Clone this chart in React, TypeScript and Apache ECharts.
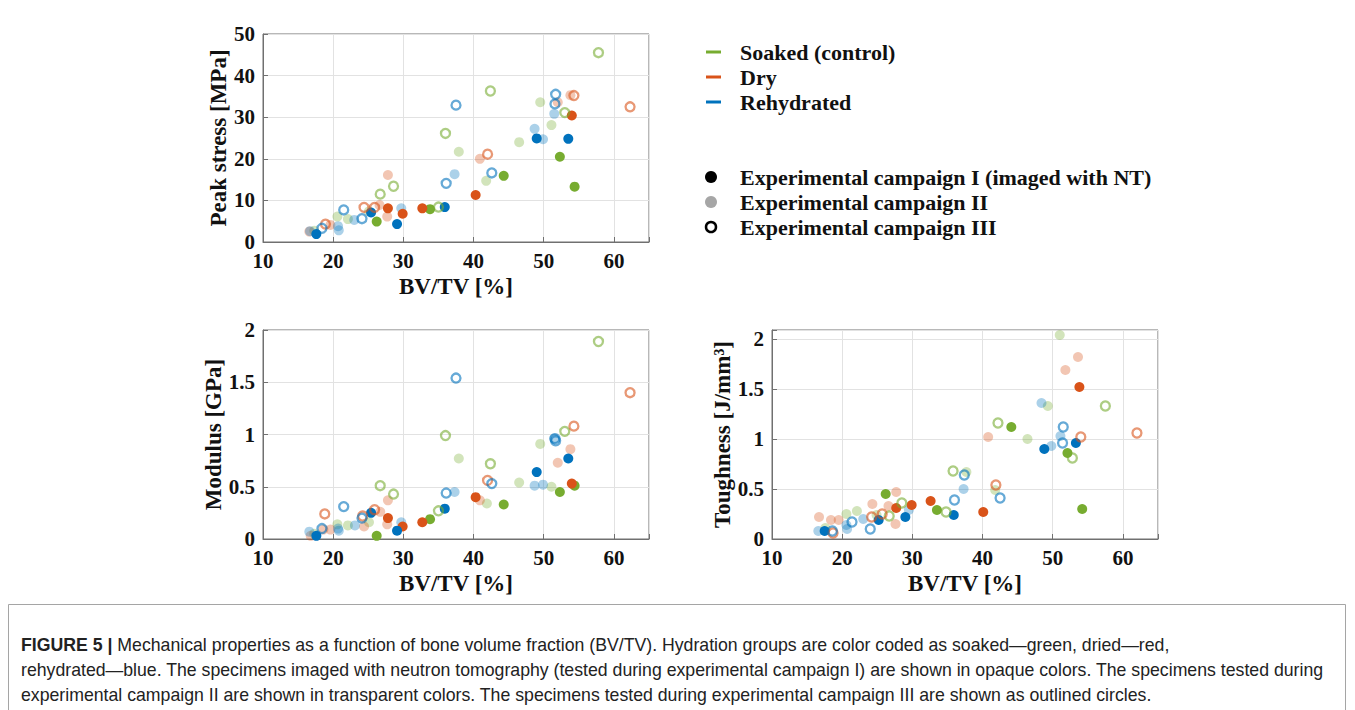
import React, { useEffect, useRef } from 'react';
import * as echarts from 'echarts';

const GREEN = '#77AC30';
const RED = '#D95319';
const BLUE = '#0072BD';

// ---- Panel 1: Peak stress [MPa] vs BV/TV [%]
const stressSoakedI = [[26.2, 4.9], [33.8, 7.9], [44.3, 15.9], [52.3, 20.5], [54.4, 13.3]];
const stressSoakedII = [[17.3, 2.7], [20.6, 6.1], [22.1, 5.5], [25.1, 7.4], [37.9, 21.7], [41.8, 14.7], [46.5, 24.0], [49.5, 33.6], [51.1, 28.1]];
const stressSoakedIII = [[26.7, 11.5], [28.6, 13.4], [35.0, 8.4], [36.0, 26.1], [42.4, 36.3], [53.0, 31.1], [57.8, 45.5]];
const stressDryI = [[27.8, 8.1], [29.9, 6.8], [32.7, 8.1], [40.3, 11.3], [54.0, 30.4]];
const stressDryII = [[16.6, 2.5], [19.6, 4.1], [26.6, 8.9], [27.7, 6.1], [27.8, 16.1], [40.9, 20.0], [52.0, 33.6], [53.8, 35.3]];
const stressDryIII = [[18.9, 4.3], [24.4, 8.3], [25.9, 8.3], [42.0, 21.1], [54.3, 35.2], [62.3, 32.5]];
const stressRehydI = [[17.6, 1.9], [25.4, 7.1], [29.1, 4.3], [35.9, 8.4], [49.0, 24.9], [53.5, 24.8]];
const stressRehydII = [[16.7, 2.6], [20.7, 3.8], [20.8, 2.8], [23.0, 5.3], [29.7, 8.1], [37.3, 16.3], [48.7, 27.2], [49.9, 24.7], [51.5, 30.8]];
const stressRehydIII = [[18.4, 3.3], [21.5, 7.7], [24.1, 5.6], [36.1, 14.1], [37.5, 32.9], [42.6, 16.6], [51.6, 33.2], [51.7, 35.5]];

// ---- Panel 2: Modulus [GPa]
const modSoakedI = [[26.2, 0.03], [33.8, 0.19], [44.3, 0.33], [52.3, 0.45], [54.4, 0.51]];
const modSoakedII = [[17.3, 0.05], [20.6, 0.14], [22.1, 0.13], [25.1, 0.16], [37.9, 0.77], [41.9, 0.34], [46.5, 0.54], [49.5, 0.91], [51.1, 0.5]];
const modSoakedIII = [[26.7, 0.51], [28.6, 0.43], [35.0, 0.27], [36.0, 0.99], [42.4, 0.72], [53.0, 1.03], [57.8, 1.89]];
const modDryI = [[27.8, 0.2], [29.9, 0.12], [32.7, 0.16], [40.3, 0.4], [54.0, 0.53]];
const modDryII = [[16.8, 0.03], [18.6, 0.09], [19.6, 0.09], [24.4, 0.12], [26.7, 0.26], [27.7, 0.14], [27.8, 0.37], [40.9, 0.37], [52.0, 0.73], [53.8, 0.86]];
const modDryIII = [[18.8, 0.24], [24.2, 0.22], [25.9, 0.28], [42.0, 0.56], [54.3, 1.08], [62.3, 1.4]];
const modRehydI = [[17.6, 0.03], [25.4, 0.25], [29.1, 0.08], [35.9, 0.29], [49.0, 0.64], [53.5, 0.77]];
const modRehydII = [[16.6, 0.07], [20.7, 0.1], [20.8, 0.08], [23.1, 0.13], [29.7, 0.16], [37.3, 0.45], [48.7, 0.51], [49.9, 0.52], [51.5, 0.96]];
const modRehydIII = [[18.4, 0.1], [21.5, 0.31], [24.1, 0.2], [36.1, 0.44], [37.5, 1.54], [42.6, 0.53], [51.6, 0.96], [51.7, 0.94]];

// ---- Panel 3: Toughness [J/mm3]
const toughSoakedI = [[26.2, 0.45], [33.5, 0.29], [44.1, 1.12], [52.1, 0.86], [54.2, 0.3]];
const toughSoakedII = [[17.6, 0.11], [20.6, 0.25], [22.1, 0.28], [24.9, 0.24], [37.7, 0.67], [41.8, 0.49], [46.4, 1.0], [49.3, 1.33], [51.0, 2.04]];
const toughSoakedIII = [[26.7, 0.23], [28.5, 0.36], [34.8, 0.27], [35.8, 0.68], [42.2, 1.16], [52.8, 0.81], [57.5, 1.33]];
const toughDryI = [[27.7, 0.31], [29.9, 0.34], [32.6, 0.38], [40.1, 0.27], [53.8, 1.52]];
const toughDryII = [[16.7, 0.22], [18.4, 0.19], [19.5, 0.19], [24.3, 0.35], [26.6, 0.33], [27.6, 0.15], [27.7, 0.47], [40.8, 1.02], [51.8, 1.69], [53.6, 1.82]];
const toughDryIII = [[18.7, 0.06], [24.2, 0.22], [25.7, 0.25], [41.9, 0.54], [54.0, 1.02], [62.0, 1.06]];
const toughRehydI = [[17.5, 0.08], [25.2, 0.19], [29.0, 0.22], [35.9, 0.24], [48.8, 0.9], [53.3, 0.96]];
const toughRehydII = [[16.6, 0.08], [20.6, 0.14], [20.7, 0.1], [23.0, 0.2], [29.5, 0.29], [37.3, 0.5], [48.4, 1.36], [49.8, 0.93], [51.1, 1.03]];
const toughRehydIII = [[18.6, 0.08], [21.4, 0.17], [24.0, 0.1], [36.0, 0.39], [37.4, 0.64], [42.5, 0.41], [51.4, 0.96], [51.5, 1.12]];

const xTicks = [10, 20, 30, 40, 50, 60];
const groupNames = ['Soaked (control)', 'Dry', 'Rehydrated'];
const campaignNames = ['Experimental campaign I (imaged with NT)', 'Experimental campaign II', 'Experimental campaign III'];
const captionLines = [
  'Mechanical properties as a function of bone volume fraction (BV/TV). Hydration groups are color coded as soaked\u2014green, dried\u2014red,',
  'rehydrated\u2014blue. The specimens imaged with neutron tomography (tested during experimental campaign I) are shown in opaque colors. The specimens tested during',
  'experimental campaign II are shown in transparent colors. The specimens tested during experimental campaign III are shown as outlined circles.',
];

const SERIF = 'Liberation Serif, Times New Roman, serif';
const SANS = 'Liberation Sans, Arial, sans-serif';
const AX = '#707070';

function scatter(name: string, idx: number, data: number[][], color: string, campaign: number) {
  const base: any = {
    type: 'scatter',
    name,
    xAxisIndex: idx,
    yAxisIndex: idx,
    data,
    symbol: 'circle',
    silent: true,
  };
  if (campaign === 1) {
    base.symbolSize = 10;
    base.itemStyle = { color, opacity: 1 };
    base.z = 3;
  } else if (campaign === 2) {
    base.symbolSize = 10;
    base.itemStyle = { color, opacity: 0.33 };
    base.z = 2;
  } else {
    base.symbolSize = 9;
    base.itemStyle = { color: 'rgba(255,255,255,0)', borderColor: color, borderWidth: 2.3, opacity: 0.6 };
    base.z = 4;
  }
  return base;
}

function xAxis(idx: number) {
  return {
    type: 'value',
    gridIndex: idx,
    min: 10,
    max: 65,
    interval: 10,
    name: 'BV/TV [%]',
    nameLocation: 'middle',
    nameGap: 33,
    nameTextStyle: { fontFamily: SERIF, fontWeight: 'bold', fontSize: 23, color: '#111' },
    axisLine: { show: true, onZero: false, lineStyle: { color: AX } },
    axisTick: { show: true, inside: true, length: 5, lineStyle: { color: AX } },
    axisLabel: {
      fontFamily: SERIF, fontWeight: 'bold', fontSize: 21, color: '#111', margin: 8,
      formatter: (v: number) => (xTicks.includes(v) ? String(v) : ''),
    },
    splitLine: { show: true, lineStyle: { color: '#e2e2e2' } },
  };
}

function yAxis(idx: number, name: string, max: number, interval: number, gap: number) {
  return {
    type: 'value',
    gridIndex: idx,
    min: 0,
    max,
    interval,
    name,
    nameLocation: 'middle',
    nameGap: gap,
    nameTextStyle: { fontFamily: SERIF, fontWeight: 'bold', fontSize: 23, color: '#111' },
    axisLine: { show: true, onZero: false, lineStyle: { color: AX } },
    axisTick: { show: true, inside: true, length: 5, lineStyle: { color: AX } },
    axisLabel: {
      fontFamily: SERIF, fontWeight: 'bold', fontSize: 21, color: '#111', margin: 8,
      formatter: (v: number) => (Math.abs(v / interval - Math.round(v / interval)) < 1e-6 ? String(+v.toFixed(2)) : ''),
    },
    splitLine: { show: true, lineStyle: { color: '#e2e2e2' } },
  };
}

export default function App() {
  const ref = useRef<HTMLDivElement>(null);
  useEffect(() => {
    const chart = echarts.init(ref.current!, null, { renderer: 'svg' });
    const gridStyle = { show: true, borderColor: AX, borderWidth: 1, backgroundColor: '#fff' };
    const legendColors = [GREEN, RED, BLUE];
    const graphic: any[] = [];
    groupNames.forEach((g, i) => {
      const y = 52 + i * 25;
      graphic.push({ type: 'rect', shape: { x: 706, y: y - 1.5, width: 15, height: 3 }, style: { fill: legendColors[i] } });
      graphic.push({ type: 'text', x: 740, y, style: { text: g, font: `bold 22px ${SERIF}`, fill: '#111', textVerticalAlign: 'middle' } });
    });
    campaignNames.forEach((c, i) => {
      const y = 177 + i * 25;
      if (i === 0) graphic.push({ type: 'circle', shape: { cx: 711, cy: y, r: 6 }, style: { fill: '#000' } });
      if (i === 1) graphic.push({ type: 'circle', shape: { cx: 711, cy: y, r: 6 }, style: { fill: '#a6a6a6' } });
      if (i === 2) graphic.push({ type: 'circle', shape: { cx: 711, cy: y, r: 5 }, style: { fill: 'none', stroke: '#000', lineWidth: 2.5 } });
      graphic.push({ type: 'text', x: 740, y, style: { text: c, font: `bold 22px ${SERIF}`, fill: '#111', textVerticalAlign: 'middle' } });
    });
    graphic.push({ type: 'rect', shape: { x: 8.5, y: 604.5, width: 1337, height: 130 }, style: { fill: 'none', stroke: '#a5a5a5', lineWidth: 1 } });
    captionLines.forEach((line, i) => {
      graphic.push({
        type: 'text', x: 21, y: 645 + i * 25,
        style: {
          text: (i === 0 ? '{b|FIGURE 5 |} ' : '') + line,
          font: `17.7px ${SANS}`,
          fill: '#222', textVerticalAlign: 'middle',
          rich: { b: { fontWeight: 'bold', fontSize: 17.7, fontFamily: SANS, fill: '#222' } },
        },
      });
    });

    const option: any = {
      animation: false,
      backgroundColor: '#fff',
      grid: [
        { left: 263, top: 34, width: 386, height: 208, ...gridStyle },
        { left: 263, top: 330, width: 386, height: 209, ...gridStyle },
        { left: 772, top: 330, width: 386, height: 209, ...gridStyle },
      ],
      xAxis: [xAxis(0), xAxis(1), xAxis(2)],
      yAxis: [
        yAxis(0, 'Peak stress [MPa]', 50, 10, 30),
        yAxis(1, 'Modulus [GPa]', 2, 0.5, 37),
        yAxis(2, 'Toughness [J/mm\u00b3]', 2.09, 0.5, 35),
      ],
      series: [
        scatter('Soaked II', 0, stressSoakedII, GREEN, 2),
        scatter('Dry II', 0, stressDryII, RED, 2),
        scatter('Rehydrated II', 0, stressRehydII, BLUE, 2),
        scatter('Soaked I', 0, stressSoakedI, GREEN, 1),
        scatter('Dry I', 0, stressDryI, RED, 1),
        scatter('Rehydrated I', 0, stressRehydI, BLUE, 1),
        scatter('Soaked III', 0, stressSoakedIII, GREEN, 3),
        scatter('Dry III', 0, stressDryIII, RED, 3),
        scatter('Rehydrated III', 0, stressRehydIII, BLUE, 3),

        scatter('Soaked II', 1, modSoakedII, GREEN, 2),
        scatter('Dry II', 1, modDryII, RED, 2),
        scatter('Rehydrated II', 1, modRehydII, BLUE, 2),
        scatter('Soaked I', 1, modSoakedI, GREEN, 1),
        scatter('Dry I', 1, modDryI, RED, 1),
        scatter('Rehydrated I', 1, modRehydI, BLUE, 1),
        scatter('Soaked III', 1, modSoakedIII, GREEN, 3),
        scatter('Dry III', 1, modDryIII, RED, 3),
        scatter('Rehydrated III', 1, modRehydIII, BLUE, 3),

        scatter('Soaked II', 2, toughSoakedII, GREEN, 2),
        scatter('Dry II', 2, toughDryII, RED, 2),
        scatter('Rehydrated II', 2, toughRehydII, BLUE, 2),
        scatter('Soaked I', 2, toughSoakedI, GREEN, 1),
        scatter('Dry I', 2, toughDryI, RED, 1),
        scatter('Rehydrated I', 2, toughRehydI, BLUE, 1),
        scatter('Soaked III', 2, toughSoakedIII, GREEN, 3),
        scatter('Dry III', 2, toughDryIII, RED, 3),
        scatter('Rehydrated III', 2, toughRehydIII, BLUE, 3),
      ],
      graphic,
    };
    chart.setOption(option);
    return () => chart.dispose();
  }, []);
  return (
    <div
      ref={ref}
      style={{ position: 'fixed', left: 0, top: 0, width: 1355, height: 710, background: '#fff' }}
    />
  );
}
